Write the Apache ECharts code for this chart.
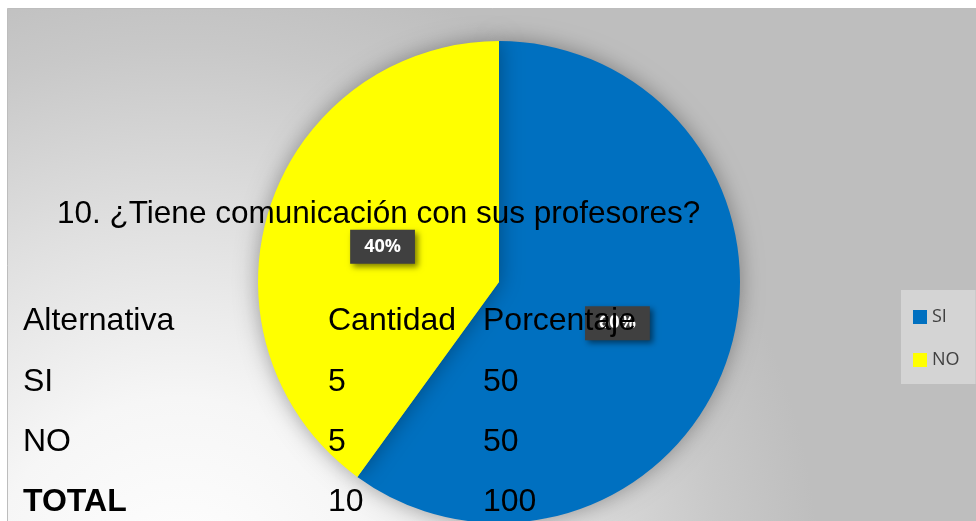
<!DOCTYPE html>
<html>
<head>
<meta charset="utf-8">
<script src="https://cdn.jsdelivr.net/npm/echarts@6/dist/echarts.min.js"></script>
<style>
html,body{margin:0;padding:0;background:#fff;}
#c{width:976px;height:521px;}
</style>
</head>
<body>
<div id="c"></div>
<script>
var categories = ['SI', 'NO'];
var values = [60, 40];
var colors = ['#0070C0', '#FFFF00'];

var titleText = '10. ¿Tiene comunicación con sus profesores?';
var tableHeader = ['Alternativa', 'Cantidad', 'Porcentaje'];
var tableAlternativas = ['SI', 'NO', 'TOTAL'];
var tableCantidad = ['5', '5', '10'];
var tablePorcentaje = ['50', '50', '100'];

var chart = echarts.init(document.getElementById('c'));

var colX = [23, 328, 483];
var rowY = [321, 382, 442, 502];
var textFont = 'Liberation Sans';
var fs = 32;

var elements = [];
elements.push({
  type: 'rect', z: -10, silent: true,
  shape: { x: 7.5, y: 8.5, width: 975, height: 520 },
  style: {
    fill: new echarts.graphic.RadialGradient(180, 590, 640, [
      { offset: 0, color: '#FFFFFF' },
      { offset: 0.3, color: '#F6F6F6' },
      { offset: 0.6, color: '#DEDEDE' },
      { offset: 0.85, color: '#C8C8C8' },
      { offset: 1, color: '#BEBEBE' }
    ], true),
    stroke: '#BDBDBD', lineWidth: 1
  }
});
elements.push({
  type: 'text', z: 100, silent: true, x: 57, y: 214,
  style: { text: titleText, fill: '#000', fontSize: 31.5, fontFamily: textFont, verticalAlign: 'middle' }
});
function addRow(cells, y, bold) {
  for (var i = 0; i < cells.length; i++) {
    elements.push({
      type: 'text', z: 100, silent: true, x: colX[i], y: y,
      style: { text: cells[i], fill: '#000', fontSize: fs, fontFamily: textFont, fontWeight: (bold && i === 0) ? 'bold' : 'normal', verticalAlign: 'middle' }
    });
  }
}
addRow(tableHeader, rowY[0], false);
for (var r = 0; r < tableAlternativas.length; r++) {
  addRow([tableAlternativas[r], tableCantidad[r], tablePorcentaje[r]], rowY[r + 1], tableAlternativas[r] === 'TOTAL');
}

chart.setOption({
  animation: false,
  color: colors,
  graphic: { elements: elements },
  legend: {
    orient: 'vertical',
    left: 901,
    top: 290,
    padding: [18, 16, 15, 12],
    backgroundColor: '#D4D4D4',
    itemWidth: 14,
    itemHeight: 14,
    itemGap: 25,
    icon: 'rect',
    textStyle: { color: '#404040', fontSize: 18, fontFamily: 'Open Sans' },
    data: categories
  },
  series: [{
    type: 'pie',
    center: [499, 282],
    radius: 241,
    startAngle: 90,
    clockwise: true,
    z: 2,
    itemStyle: {
      borderWidth: 0,
      shadowBlur: 22,
      shadowColor: 'rgba(0,0,0,0.35)'
    },
    label: {
      show: true,
      position: 'inside',
      formatter: '{d}%',
      color: '#FFFFFF',
      fontWeight: 'bold',
      fontSize: 18,
      fontFamily: 'Open Sans',
      backgroundColor: '#404040',
      padding: [8, 14, 8, 14],
      offset: [1, 3],
      shadowBlur: 6,
      shadowOffsetX: 3,
      shadowOffsetY: 3,
      shadowColor: 'rgba(0,0,0,0.5)'
    },
    labelLine: { show: false },
    emphasis: { disabled: true },
    data: categories.map(function (c, i) { return { name: c, value: values[i] }; })
  }]
});
</script>
</body>
</html>
